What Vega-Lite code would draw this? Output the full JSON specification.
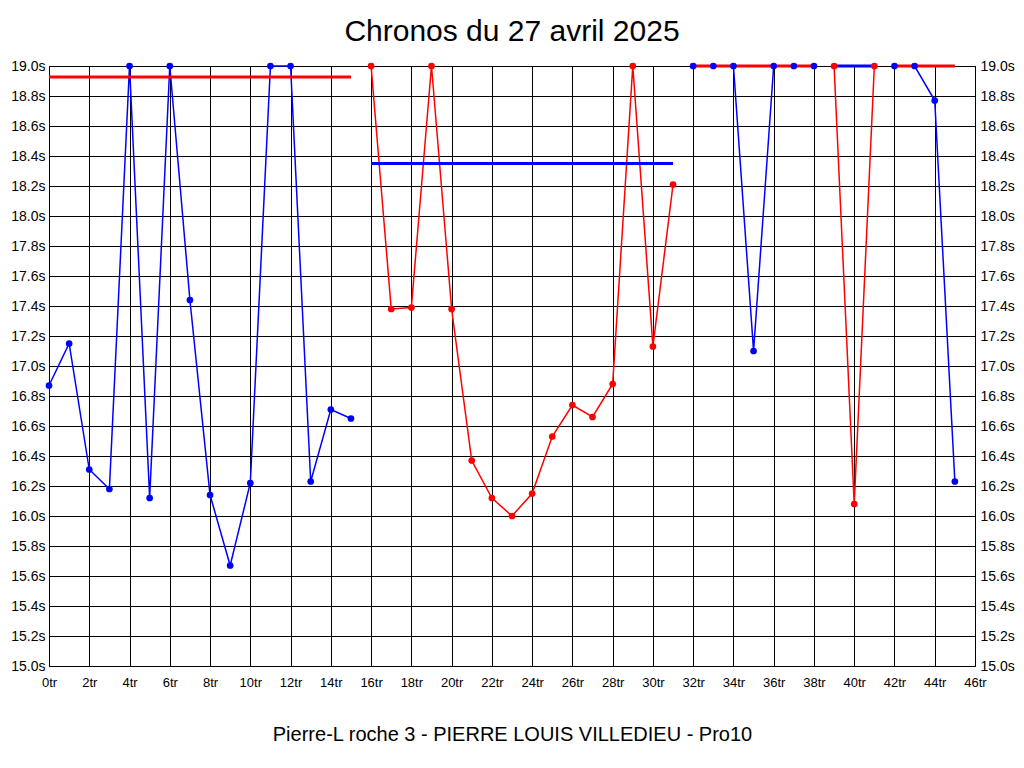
{
  "$schema": "https://vega.github.io/schema/vega-lite/v6.json",
  "width": 926,
  "height": 600,
  "autosize": "none",
  "padding": {"left": 49, "top": 66, "right": 49, "bottom": 102},
  "background": "white",
  "title": {
    "text": "Chronos du 27 avril 2025",
    "font": "Liberation Sans",
    "fontSize": 30,
    "fontWeight": "normal",
    "color": "#000000",
    "anchor": "middle",
    "baseline": "alphabetic",
    "offset": 23,
    "dy": 35
  },
  "config": {
    "view": {"stroke": "#000000", "strokeWidth": 1},
    "axis": {
      "labelFont": "Liberation Sans",
      "labelColor": "#000000",
      "gridColor": "#000000",
      "gridOpacity": 1,
      "gridWidth": 1,
      "ticks": false,
      "domain": false,
      "labelFlush": false
    }
  },
  "datasets": {
    "tours": [
      {"tour": 0, "temps": 16.87, "seg": "s1", "cat": "A"},
      {"tour": 1, "temps": 17.15, "seg": "s1", "cat": "A"},
      {"tour": 2, "temps": 16.31, "seg": "s1", "cat": "A"},
      {"tour": 3, "temps": 16.18, "seg": "s1", "cat": "A"},
      {"tour": 4, "temps": 19.0, "seg": "s1", "cat": "A"},
      {"tour": 5, "temps": 16.12, "seg": "s1", "cat": "A"},
      {"tour": 6, "temps": 19.0, "seg": "s1", "cat": "A"},
      {"tour": 7, "temps": 17.44, "seg": "s1", "cat": "A"},
      {"tour": 8, "temps": 16.14, "seg": "s1", "cat": "A"},
      {"tour": 9, "temps": 15.67, "seg": "s1", "cat": "A"},
      {"tour": 10, "temps": 16.22, "seg": "s1", "cat": "A"},
      {"tour": 11, "temps": 19.0, "seg": "s1", "cat": "A"},
      {"tour": 12, "temps": 19.0, "seg": "s1", "cat": "A"},
      {"tour": 13, "temps": 16.23, "seg": "s1", "cat": "A"},
      {"tour": 14, "temps": 16.71, "seg": "s1", "cat": "A"},
      {"tour": 15, "temps": 16.65, "seg": "s1", "cat": "A"},
      {"tour": 16, "temps": 19.0, "seg": "s2", "cat": "B"},
      {"tour": 17, "temps": 17.38, "seg": "s2", "cat": "B"},
      {"tour": 18, "temps": 17.39, "seg": "s2", "cat": "B"},
      {"tour": 19, "temps": 19.0, "seg": "s2", "cat": "B"},
      {"tour": 20, "temps": 17.38, "seg": "s2", "cat": "B"},
      {"tour": 21, "temps": 16.37, "seg": "s2", "cat": "B"},
      {"tour": 22, "temps": 16.12, "seg": "s2", "cat": "B"},
      {"tour": 23, "temps": 16.0, "seg": "s2", "cat": "B"},
      {"tour": 24, "temps": 16.15, "seg": "s2", "cat": "B"},
      {"tour": 25, "temps": 16.53, "seg": "s2", "cat": "B"},
      {"tour": 26, "temps": 16.74, "seg": "s2", "cat": "B"},
      {"tour": 27, "temps": 16.66, "seg": "s2", "cat": "B"},
      {"tour": 28, "temps": 16.88, "seg": "s2", "cat": "B"},
      {"tour": 29, "temps": 19.0, "seg": "s2", "cat": "B"},
      {"tour": 30, "temps": 17.13, "seg": "s2", "cat": "B"},
      {"tour": 31, "temps": 18.21, "seg": "s2", "cat": "B"},
      {"tour": 32, "temps": 19.0, "seg": "s3a", "cat": "A"},
      {"tour": 33, "temps": 19.0, "seg": "s3a", "cat": "A"},
      {"tour": 34, "temps": 19.0, "seg": "s3a", "cat": "A"},
      {"tour": 35, "temps": 17.1, "seg": "s3a", "cat": "A"},
      {"tour": 36, "temps": 19.0, "seg": "s3a", "cat": "A"},
      {"tour": 37, "temps": 19.0, "seg": "s3a", "cat": "A"},
      {"tour": 38, "temps": 19.0, "seg": "s3a", "cat": "A"},
      {"tour": 39, "temps": 19.0, "seg": "s3b", "cat": "B"},
      {"tour": 40, "temps": 16.08, "seg": "s3b", "cat": "B"},
      {"tour": 41, "temps": 19.0, "seg": "s3b", "cat": "B"},
      {"tour": 42, "temps": 19.0, "seg": "s3c", "cat": "A"},
      {"tour": 43, "temps": 19.0, "seg": "s3c", "cat": "A"},
      {"tour": 44, "temps": 18.77, "seg": "s3c", "cat": "A"},
      {"tour": 45, "temps": 16.23, "seg": "s3c", "cat": "A"}
    ],
    "moyennes": [
      {"seg": "s1", "debut": 0, "fin": 15, "moy": 18.927, "cat": "B"},
      {"seg": "s2", "debut": 16, "fin": 31, "moy": 18.35, "cat": "A"},
      {"seg": "s3a", "debut": 32, "fin": 38, "moy": 19.0, "cat": "B"},
      {"seg": "s3b", "debut": 39, "fin": 41, "moy": 19.0, "cat": "A"},
      {"seg": "s3c", "debut": 42, "fin": 45, "moy": 19.0, "cat": "B"}
    ]
  },
  "layer": [
    {
      "data": {"name": "tours"},
      "mark": {"type": "line", "strokeWidth": 1.5},
      "encoding": {
        "x": {
          "field": "tour", "type": "quantitative",
          "scale": {"domain": [0, 46], "nice": false, "zero": false},
          "axis": {
            "values": [0, 2, 4, 6, 8, 10, 12, 14, 16, 18, 20, 22, 24, 26, 28, 30, 32, 34, 36, 38, 40, 42, 44, 46],
            "labelExpr": "datum.value + 'tr'",
            "labelFontSize": 13,
            "labelPadding": 10,
            "grid": true,
            "title": "Pierre-L roche 3 - PIERRE LOUIS VILLEDIEU - Pro10",
            "titleFont": "Liberation Sans",
            "titleFontSize": 20,
            "titleFontWeight": "normal",
            "titleColor": "#000000",
            "titlePadding": 35
          }
        },
        "y": {
          "field": "temps", "type": "quantitative",
          "scale": {"domain": [15, 19], "nice": false, "zero": false},
          "axis": {
            "orient": "left",
            "values": [15, 15.2, 15.4, 15.6, 15.8, 16, 16.2, 16.4, 16.6, 16.8, 17, 17.2, 17.4, 17.6, 17.8, 18, 18.2, 18.4, 18.6, 18.8, 19],
            "labelExpr": "format(datum.value, '.1f') + 's'",
            "labelFontSize": 14,
            "labelPadding": 4,
            "grid": true,
            "title": null
          }
        },
        "color": {
          "field": "cat", "type": "nominal",
          "scale": {"domain": ["A", "B"], "range": ["#0000ff", "#ff0000"]},
          "legend": null
        },
        "detail": {"field": "seg"}
      }
    },
    {
      "data": {"name": "moyennes"},
      "mark": {"type": "rule", "strokeWidth": 3},
      "encoding": {
        "x": {"field": "debut", "type": "quantitative"},
        "x2": {"field": "fin"},
        "y": {
          "field": "moy", "type": "quantitative",
          "axis": {
            "orient": "right",
            "values": [15, 15.2, 15.4, 15.6, 15.8, 16, 16.2, 16.4, 16.6, 16.8, 17, 17.2, 17.4, 17.6, 17.8, 18, 18.2, 18.4, 18.6, 18.8, 19],
            "labelExpr": "format(datum.value, '.1f') + 's'",
            "labelFontSize": 14,
            "labelPadding": 5,
            "grid": false,
            "title": null
          }
        },
        "color": {"field": "cat", "type": "nominal", "legend": null}
      }
    },
    {
      "data": {"name": "tours"},
      "mark": {"type": "point", "filled": true, "size": 45, "opacity": 1},
      "encoding": {
        "x": {"field": "tour", "type": "quantitative"},
        "y": {"field": "temps", "type": "quantitative", "axis": null},
        "color": {"field": "cat", "type": "nominal", "legend": null}
      }
    }
  ],
  "resolve": {"axis": {"y": "independent"}}
}
